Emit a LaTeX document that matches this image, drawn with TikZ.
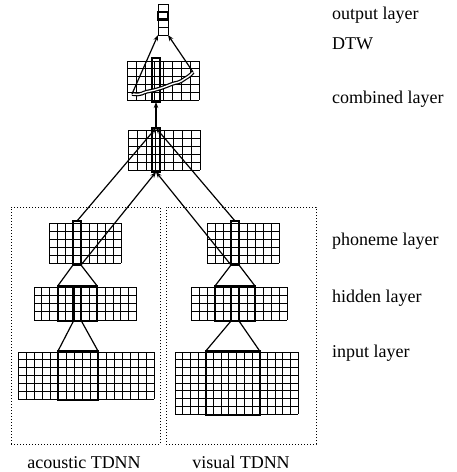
\documentclass[tikz,border=0pt]{standalone}
\usepackage{fontspec}
\setmainfont{Liberation Serif}
\usetikzlibrary{arrows.meta}
\tikzset{
  gridline/.style={line width=0.85pt},
  thickbox/.style={draw, line width=2.1pt, inner sep=0pt, outer sep=0pt},
  thinbox/.style={inner sep=0pt, outer sep=0pt},
  conn/.style={line width=1.2pt},
  arr/.style={conn, -{Stealth[length=6pt,width=4.5pt]}},
  tdnnbox/.style={dotted, line width=1pt},
  lbl/.style={anchor=base west, inner sep=0pt, font=\fontsize{18}{20}\selectfont},
  blbl/.style={anchor=base, inner sep=0pt, font=\fontsize{18}{20}\selectfont},
  warp/.style={line width=1.2pt, double=white, double distance=1.4pt, line join=round, rounded corners=2pt}
}
\newcommand{\mygrid}[6]{%
  \foreach \i in {0,...,#3} \draw[gridline] ({#1+\i*#5},#2) -- ++(0,{#4*#6});
  \foreach \j in {0,...,#4} \draw[gridline] (#1,{#2+\j*#6}) -- ++({#3*#5},0);
}
\newcommand{\boxnode}[6]{% style,name,x1,y1,x2,y2
  \node[#1, minimum width={(#5-#3)*1pt}, minimum height={(#6-#4)*1pt}] (#2) at ({(#3+#5)/2},{(#4+#6)/2}) {};
}
\begin{document}
\begin{tikzpicture}[x=1pt,y=-1pt]
\useasboundingbox (0,0) rectangle (456,472);
% dotted TDNN boxes
\node[thinbox, draw, tdnnbox, minimum width=149pt, minimum height=237pt] (abox) at (85.5,325.5) {};
\node[thinbox, draw, tdnnbox, minimum width=150pt, minimum height=237pt] (vbox) at (241,325.5) {};
% grids
\mygrid{158}{4}{1}{4}{10}{7.75}
\mygrid{127}{61}{8}{5}{9}{7.8}
\mygrid{128}{130}{8}{5}{9}{8}
\mygrid{49}{223}{9}{5}{8}{8}
\mygrid{34}{287}{13}{4}{7.9}{8.25}
\mygrid{18}{352}{17}{6}{8}{7.9}
\mygrid{207}{223}{9}{5}{8}{8}
\mygrid{191}{287}{12}{4}{8}{8.25}
\mygrid{175}{352}{16}{8}{7.7}{7.75}
% thick boxes / columns
\boxnode{thinbox}{outcol}{158}{4}{168}{35}
\boxnode{thickbox}{outcell}{158}{12}{168}{19.5}
\boxnode{thickbox}{dtwcol}{152}{58}{160}{102}
\boxnode{thickbox}{combcol}{152}{128}{160}{172}
\boxnode{thickbox}{aphon}{73}{221}{81}{265}
\boxnode{thickbox}{ahid}{57.7}{286}{97.2}{321}
\boxnode{thickbox}{ahidin}{73.5}{286}{81.4}{321}
\boxnode{thickbox}{ainp}{58}{351}{98}{400}
\boxnode{thickbox}{vphon}{231}{221}{239}{265}
\boxnode{thickbox}{vhid}{215}{286}{255}{321}
\boxnode{thickbox}{vhidin}{231}{286}{239}{321}
\boxnode{thickbox}{vinp}{205.8}{351}{259.7}{415}
% warping path
\coordinate (p0) at (132,94);
\coordinate (p1) at (193,72);
\draw[warp] (p0) -- (140,94.5) -- (145,92) -- (153,90.5) -- (160,88.5) -- (167,86) -- (173,83.5) -- (180,82) -- (185,78.5) -- (190,75.5) -- (p1);
% connectors within TDNNs
\draw[conn] (aphon.south west) -- (ahid.north west);
\draw[conn] (aphon.south east) -- (ahid.north east);
\draw[conn] (ahidin.south west) -- (ainp.north west);
\draw[conn] (ahidin.south east) -- (ainp.north east);
\draw[conn] (vphon.south west) -- (vhid.north west);
\draw[conn] (vphon.south east) -- (vhid.north east);
\draw[conn] (vhidin.south west) -- (vinp.north west);
\draw[conn] (vhidin.south east) -- (vinp.north east);
% to combined layer
\draw[arr] (aphon.north) -- (combcol.north);
\draw[arr] (aphon.south east) -- (combcol.south);
\draw[arr] (vphon.north) -- (combcol.north);
\draw[arr] (vphon.south west) -- (combcol.south);
% combined to DTW
\draw[arr] (combcol.north) -- (dtwcol.south);
% DTW to output
\draw[arr] (p0) -- (outcol.south west);
\draw[arr] (p1) -- (outcol.south east);
% labels
\node[lbl] (l1) at (332,19) {output layer};
\node[lbl] (l2) at (332,49) {DTW};
\node[lbl] (l3) at (332,103) {combined layer};
\node[lbl] (l4) at (332,245) {phoneme layer};
\node[lbl] (l5) at (332,302) {hidden layer};
\node[lbl] (l6) at (332,357) {input layer};
\node[blbl] (l7) at (84,468) {acoustic TDNN};
\node[blbl] (l8) at (241,468) {visual TDNN};
\end{tikzpicture}
\end{document}
